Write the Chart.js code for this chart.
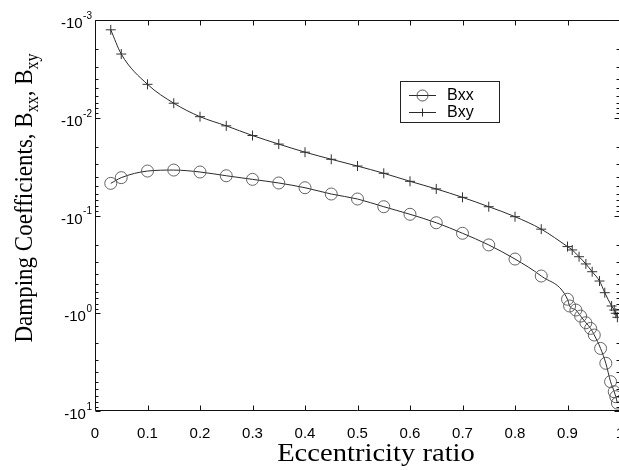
<!DOCTYPE html>
<html><head><meta charset="utf-8">
<script src="https://cdn.jsdelivr.net/npm/chart.js@4.4.1/dist/chart.umd.min.js"></script>
<style>html,body{margin:0;padding:0;background:#fff;overflow:hidden;width:619px;height:470px}canvas{display:block}</style>
</head><body>
<canvas id="c" width="640" height="470"></canvas>
<script>
// ---- data ----
const seriesNames = ["Bxx", "Bxy"];
const xTickLabels = ["0","0.1","0.2","0.3","0.4","0.5","0.6","0.7","0.8","0.9","1"];
const yTickBase = "-10";
const yTickExponents = [-3, -2, -1, 0, 1];
const xTitle = "Eccentricity ratio";
const yTitleParts = [["Damping Coefficients, B", ""], ["xx", "sub"], [", B", ""], ["xy", "sub"]];

const eccXX = [0.03,0.05,0.10,0.15,0.20,0.25,0.30,0.35,0.40,0.45,0.50,0.55,0.60,0.65,0.70,0.75,0.80,0.85,0.90,0.904,0.916,0.925,0.935,0.944,0.951,0.963,0.973,0.982,0.989,0.992,0.995];
const bxx   = [-0.0469,-0.0410,-0.0351,-0.0343,-0.0359,-0.0392,-0.0427,-0.0465,-0.0520,-0.0603,-0.0678,-0.0813,-0.0972,-0.1186,-0.152,-0.200,-0.279,-0.416,-0.719,-0.843,-0.927,-1.07,-1.25,-1.43,-1.67,-2.29,-3.25,-5.01,-6.35,-7.14,-8.3];
const eccXY = [0.03,0.05,0.10,0.15,0.20,0.25,0.30,0.35,0.40,0.45,0.50,0.55,0.60,0.65,0.70,0.75,0.80,0.85,0.90,0.909,0.922,0.935,0.947,0.961,0.971,0.984,0.989,0.992,0.995];
const bxy   = [-0.00126,-0.00223,-0.00455,-0.0071,-0.00975,-0.0121,-0.0152,-0.0186,-0.0225,-0.0266,-0.0312,-0.0370,-0.0447,-0.0535,-0.0652,-0.0813,-0.1028,-0.138,-0.208,-0.225,-0.264,-0.313,-0.376,-0.468,-0.616,-0.843,-0.927,-1.0,-1.1];

const INK = '#2a2a2a';
const toPts = (xs, ys) => xs.map((x, i) => ({x: x, y: Math.abs(ys[i])}));

const decor = {
  id: 'decor',
  afterDraw(chart) {
    const ctx = chart.ctx, a = chart.chartArea;
    const xs = chart.scales.x, ys = chart.scales.y;
    ctx.save();
    ctx.strokeStyle = '#111';
    ctx.lineWidth = 1;
    // box
    const L = Math.round(a.left) + 0.5, T = Math.round(a.top) + 0.5;
    const R = Math.round(a.right) - 0.5, B = Math.round(a.bottom) - 0.5;
    ctx.beginPath();
    ctx.moveTo(L, T); ctx.lineTo(R, T); ctx.lineTo(R, B); ctx.lineTo(L, B); ctx.closePath();
    ctx.stroke();
    // x ticks (inward, bottom and top)
    ctx.beginPath();
    xTickLabels.forEach((l, i) => {
      const px = Math.round(xs.getPixelForValue(i / 10)) + 0.5;
      ctx.moveTo(px, B); ctx.lineTo(px, B - 5);
      ctx.moveTo(px, T); ctx.lineTo(px, T + 5);
    });
    // y ticks: decades + minors
    yTickExponents.forEach((e) => {
      for (let m = 1; m <= 9; m++) {
        const v = m * Math.pow(10, e);
        if (v > 10) continue;
        const py = Math.round(ys.getPixelForValue(v)) + 0.5;
        const len = m === 1 ? 5 : 3;
        ctx.moveTo(L, py); ctx.lineTo(L + len, py);
        ctx.moveTo(R, py); ctx.lineTo(R - len, py);
      }
    });
    ctx.stroke();
    // y tick labels with superscripts
    ctx.fillStyle = '#000';
    ctx.textBaseline = 'middle';
    yTickExponents.forEach((e) => {
      const py = ys.getPixelForValue(Math.pow(10, e));
      ctx.font = '10px "Liberation Sans", Arial, sans-serif';
      const sup = String(e);
      const sw = ctx.measureText(sup).width;
      ctx.textAlign = 'left';
      const supX = 92 - sw;
      ctx.fillText(sup, supX, py - 4);
      ctx.font = '15px "Liberation Sans", Arial, sans-serif';
      ctx.textAlign = 'right';
      ctx.fillText(yTickBase, supX - 0.5, py + 4);
    });
    // x title (scan is slightly stretched horizontally)
    ctx.save();
    ctx.translate(376, 461);
    ctx.scale(1.1, 1);
    ctx.font = '26px "Liberation Serif", "Times New Roman", serif';
    ctx.textAlign = 'center';
    ctx.textBaseline = 'alphabetic';
    ctx.fillText(xTitle, 0, 0);
    ctx.restore();
    // y title (rotated, with subscripts)
    ctx.save();
    ctx.translate(32, 198);
    ctx.rotate(-Math.PI / 2);
    ctx.scale(1, 1.12);
    const big = '23px "Liberation Serif", "Times New Roman", serif';
    const small = '16px "Liberation Serif", "Times New Roman", serif';
    let total = 0;
    yTitleParts.forEach(([t, k]) => { ctx.font = k ? small : big; total += ctx.measureText(t).width; });
    let cx = -total / 2;
    ctx.textAlign = 'left';
    ctx.textBaseline = 'alphabetic';
    yTitleParts.forEach(([t, k]) => {
      ctx.font = k ? small : big;
      ctx.fillText(t, cx, k ? 5 : 0);
      cx += ctx.measureText(t).width;
    });
    ctx.restore();
    // legend
    const lx = 400, ly = 81, lw = 99, lh = 41;
    ctx.fillStyle = '#fff';
    ctx.fillRect(lx, ly, lw, lh);
    ctx.strokeStyle = '#222';
    ctx.strokeRect(lx + 0.5, ly + 0.5, lw, lh);
    chart.data.datasets.forEach((ds, i) => {
      const yy = ly + 14 + i * 17 + 0.5;
      ctx.strokeStyle = INK;
      ctx.lineWidth = 1;
      ctx.beginPath(); ctx.moveTo(409, yy); ctx.lineTo(436, yy); ctx.stroke();
      if (ds.pointStyle === 'circle') {
        ctx.strokeStyle = '#555';
        ctx.beginPath(); ctx.arc(422.5, yy, 5.5, 0, Math.PI * 2); ctx.stroke();
      } else {
        ctx.beginPath(); ctx.moveTo(422.5, yy - 4); ctx.lineTo(422.5, yy + 4);
        ctx.moveTo(418.5, yy); ctx.lineTo(426.5, yy); ctx.stroke();
      }
      ctx.fillStyle = '#000';
      ctx.font = '16px "Liberation Sans", Arial, sans-serif';
      ctx.textAlign = 'left';
      ctx.textBaseline = 'middle';
      ctx.fillText(ds.label, 447, yy);
    });
    ctx.restore();
  }
};

new Chart(document.getElementById('c'), {
  type: 'line',
  data: {
    datasets: [
      { label: seriesNames[0], data: toPts(eccXX, bxx), borderColor: INK, borderWidth: 1,
        pointStyle: 'circle', pointRadius: 6, pointBorderWidth: 0.9, pointBorderColor: '#555', pointBackgroundColor: 'rgba(0,0,0,0)',
        cubicInterpolationMode: 'monotone', fill: false },
      { label: seriesNames[1], data: toPts(eccXY, bxy), borderColor: INK, borderWidth: 1,
        pointStyle: 'cross', pointRadius: 5, pointBorderWidth: 1, pointBorderColor: '#333', pointBackgroundColor: 'rgba(0,0,0,0)',
        cubicInterpolationMode: 'monotone', fill: false }
    ]
  },
  options: {
    responsive: false,
    devicePixelRatio: 1,
    animation: false,
    events: [],
    layout: { autoPadding: false, padding: { top: 20, right: 20, left: 0, bottom: 0 } },
    plugins: { legend: { display: false }, tooltip: { enabled: false }, title: { display: false } },
    scales: {
      x: {
        type: 'linear', min: 0, max: 1,
        grid: { display: false, drawTicks: false },
        border: { display: false },
        ticks: { stepSize: 0.1, autoSkip: false, maxRotation: 0, padding: 14, color: '#000',
                 font: { family: '"Liberation Sans", Arial, sans-serif', size: 15 },
                 callback: (v) => { const i = Math.round(v * 10); return xTickLabels[i]; } },
        afterFit: (s) => { s.height = 59; s.paddingLeft = 0; s.paddingRight = 0; }
      },
      y: {
        type: 'logarithmic', min: 0.001, max: 10, reverse: true,
        grid: { display: false, drawTicks: false },
        border: { display: false },
        ticks: { display: false },
        afterFit: (s) => { s.width = 95; s.paddingTop = 0; s.paddingBottom = 0; }
      }
    }
  },
  plugins: [decor]
});
</script>
</body></html>
